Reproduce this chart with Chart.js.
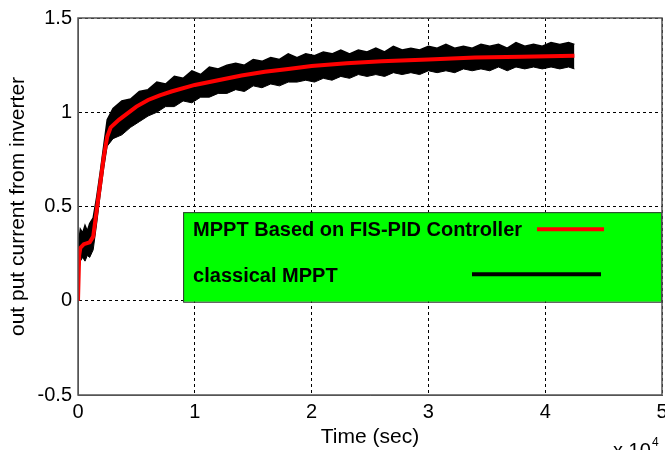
<!DOCTYPE html>
<html>
<head>
<meta charset="utf-8">
<script src="https://cdn.jsdelivr.net/npm/chart.js@4/dist/chart.umd.min.js"></script>
<style>
  html, body { margin: 0; padding: 0; background: #fff; }
  #wrap { position: relative; width: 665px; height: 450px; }
</style>
</head>
<body>
<div id="wrap"><canvas id="c" width="665" height="450"></canvas></div>
<script>
// red curve (FIS-PID)
const redTime = [0, 100, 200, 500, 1000, 1300, 1600, 1900, 2200, 2500, 2800, 3500, 5000, 6000, 7000, 8000, 10000, 12000, 14000, 16000, 18000, 20000, 23000, 26000, 30000, 34000, 38000, 42500];
const redVal = [0, 0.24, 0.28, 0.30, 0.31, 0.34, 0.48, 0.62, 0.76, 0.87, 0.92, 0.96, 1.03, 1.065, 1.09, 1.11, 1.145, 1.17, 1.195, 1.215, 1.23, 1.245, 1.26, 1.27, 1.28, 1.29, 1.295, 1.30];

// black noisy trace (classical), read as upper / lower envelope
const blackTime = [0, 100, 200, 400, 600, 800, 1000, 1300, 1600, 1900, 2200, 2500,
  3000, 3750, 4500, 5250, 6000, 6750, 7500, 8250, 9000, 9750, 10500, 11250, 12000, 12750, 13500, 14250,
  15000, 15750, 16500, 17250, 18000, 18750, 19500, 20250, 21000, 21750, 22500, 23250, 24000, 24750,
  25500, 26250, 27000, 27750, 28500, 29250, 30000, 30750, 31500, 32250, 33000, 33750, 34500, 35250,
  36000, 36750, 37500, 38250, 39000, 39750, 40500, 41250, 42000, 42500];
const blackHigh = [0.02, 0.33, 0.38, 0.36, 0.40, 0.37, 0.41, 0.44, 0.55, 0.68, 0.82, 0.96,
  1.02, 1.06, 1.07, 1.11, 1.12, 1.16, 1.15, 1.19, 1.18, 1.22, 1.20, 1.24, 1.23, 1.25, 1.26, 1.25,
  1.28, 1.27, 1.29, 1.28, 1.31, 1.29, 1.31, 1.30, 1.32, 1.31, 1.33, 1.31, 1.33, 1.32,
  1.34, 1.32, 1.35, 1.33, 1.34, 1.33, 1.35, 1.34, 1.36, 1.34, 1.35, 1.34, 1.36, 1.35,
  1.36, 1.34, 1.37, 1.35, 1.36, 1.35, 1.37, 1.36, 1.37, 1.36];
const blackLow = [0, 0.17, 0.21, 0.23, 0.21, 0.24, 0.23, 0.27, 0.41, 0.56, 0.70, 0.82,
  0.86, 0.88, 0.92, 0.95, 0.98, 1.00, 1.03, 1.03, 1.06, 1.05, 1.08, 1.08, 1.10, 1.10, 1.12, 1.11,
  1.14, 1.13, 1.15, 1.14, 1.16, 1.16, 1.17, 1.16, 1.18, 1.17, 1.19, 1.18, 1.20, 1.19,
  1.20, 1.19, 1.21, 1.20, 1.21, 1.20, 1.22, 1.21, 1.22, 1.21, 1.23, 1.22, 1.23, 1.22,
  1.24, 1.22, 1.24, 1.23, 1.24, 1.23, 1.24, 1.23, 1.24, 1.23];

const legendLabels = ["MPPT Based on FIS-PID Controller", "classical MPPT"];

const pts = (xs, ys) => xs.map((x, i) => ({ x: x, y: ys[i] }));
const FONT = "'Liberation Sans', Arial, sans-serif";

// legend box, frame and the x10^4 note
const extras = {
  id: "extras",
  afterDatasetsDraw(chart) {
    const { ctx, chartArea: a, scales } = chart;
    ctx.save();
    const x0 = scales.x.getPixelForValue(9000), y0 = scales.y.getPixelForValue(0.47);
    const x1 = a.right, y1 = scales.y.getPixelForValue(0) + 1;
    ctx.fillStyle = "#00ff00";
    ctx.fillRect(x0, y0, x1 - x0, y1 - y0);
    ctx.strokeStyle = "#333";
    ctx.lineWidth = 1;
    ctx.strokeRect(x0 + 0.5, y0 + 0.5, x1 - x0 - 1, y1 - y0);
    ctx.fillStyle = "#000";
    ctx.font = "bold 20px " + FONT;
    ctx.textBaseline = "middle";
    ctx.fillText(legendLabels[0], x0 + 10, y0 + 18);
    ctx.fillText(legendLabels[1], x0 + 10, y0 + 64);
    ctx.lineWidth = 4;
    ctx.strokeStyle = "#ff0000";
    ctx.beginPath(); ctx.moveTo(537, y0 + 17); ctx.lineTo(604, y0 + 17); ctx.stroke();
    ctx.strokeStyle = "#000";
    ctx.beginPath(); ctx.moveTo(472, y0 + 62); ctx.lineTo(601, y0 + 62); ctx.stroke();
    // plot frame
    ctx.strokeStyle = "#555";
    ctx.lineWidth = 1.5;
    ctx.strokeRect(a.left, a.top, a.right - a.left, a.bottom - a.top);
    // exponent
    ctx.fillStyle = "#000";
    ctx.textBaseline = "alphabetic";
    ctx.font = "20px " + FONT;
    ctx.fillText("x 10", 613, 457);
    ctx.font = "12px " + FONT;
    ctx.fillText("4", 652, 446);
    ctx.restore();
  }
};

new Chart(document.getElementById("c"), {
  type: "line",
  data: {
    datasets: [
      {
        label: legendLabels[0],
        data: pts(redTime, redVal),
        borderColor: "#ff0000",
        borderWidth: 4,
        pointRadius: 0,
        fill: false,
        order: 0
      },
      {
        label: "low",
        data: pts(blackTime, blackLow),
        borderColor: "#000",
        borderWidth: 1,
        pointRadius: 0,
        fill: false,
        order: 1
      },
      {
        label: legendLabels[1],
        data: pts(blackTime, blackHigh),
        borderColor: "#000",
        backgroundColor: "#000",
        borderWidth: 1.5,
        pointRadius: 0,
        fill: "-1",
        order: 1
      }
    ]
  },
  options: {
    responsive: false,
    animation: false,
    layout: { padding: { top: 17, right: 3, left: 0, bottom: 0 } },
    plugins: { legend: { display: false }, tooltip: { enabled: false } },
    scales: {
      x: {
        type: "linear",
        min: 0,
        max: 50000,
        afterFit: s => { s.height = 55; s.paddingRight = 0; s.paddingLeft = 0; },
        ticks: {
          stepSize: 10000,
          callback: v => String(v / 10000),
          color: "#000",
          font: { size: 20, family: FONT },
          padding: 5,
          maxRotation: 0
        },
        grid: { color: "#000", lineWidth: 1, drawTicks: false },
        border: { dash: [3, 3], color: "#555" },
        title: {
          display: true,
          text: "Time (sec)",
          color: "#000",
          font: { size: 21, family: FONT },
          padding: 0
        }
      },
      y: {
        min: -0.5,
        max: 1.5,
        afterFit: s => { s.width = 78; },
        ticks: {
          stepSize: 0.5,
          callback: v => String(+v.toFixed(2)),
          color: "#000",
          font: { size: 20, family: FONT },
          padding: 6
        },
        grid: { color: "#000", lineWidth: 1, drawTicks: false },
        border: { dash: [3, 3], color: "#555" },
        title: {
          display: true,
          text: "out put current from inverter",
          color: "#000",
          font: { size: 21, family: FONT },
          padding: { top: 6, bottom: 0 }
        }
      }
    }
  },
  plugins: [extras]
});
</script>
</body>
</html>
